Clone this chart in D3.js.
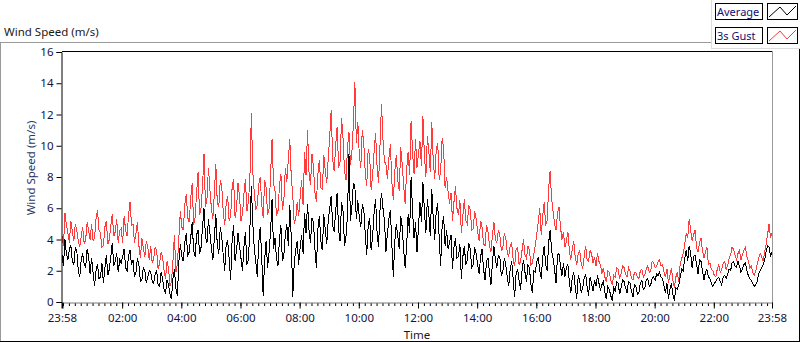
<!DOCTYPE html>
<html>
<head>
<meta charset="utf-8">
<script src="https://cdn.jsdelivr.net/npm/d3@7"></script>
<style>
  html, body { margin: 0; padding: 0; background: #fff; }
  svg { display: block; font-family: "Noto Sans", "Open Sans", sans-serif; }
</style>
</head>
<body>
<svg id="chart" width="800" height="342"></svg>
<script>
// samples every 3 minutes, 23:58 -> 23:58 next day
const sampleMinutes = 3;

const gustSpeed = [
  4.2,3.6, 5.7,4.9, 4.4,3.8, 5.2,4.5, 3.9,5.0, 4.6,3.9, 3.5,4.2, 4.8,3.7, 4.0,5.1, 4.6,4.0,
  5.0,3.9, 4.1,5.3, 5.9,4.6, 4.4,3.5, 3.6,4.8, 5.2,3.7, 4.0,4.9, 5.6,4.2, 4.5,5.3, 3.8,4.6,
  4.7,3.8, 5.5,4.6, 4.2,5.6, 6.4,4.9, 5.0,3.8, 4.4,5.1, 3.6,2.8, 4.1,3.4, 2.9,3.9, 3.5,2.7,
  3.6,2.5, 2.8,3.5, 3.3,2.1, 2.5,3.2, 2.9,2.0, 1.5,2.6, 2.2,1.0, 1.3,2.6, 4.3,1.9, 2.4,4.1,
  5.8,4.8, 4.6,6.2, 6.9,5.4, 5.1,6.6, 7.6,4.9, 5.4,7.0, 8.3,5.6, 6.0,7.4, 9.5,6.1, 6.6,8.6,
  7.2,6.0, 5.3,7.0, 8.8,6.3, 6.1,7.8, 7.4,5.8, 4.9,6.3, 6.8,5.2, 5.5,7.3, 7.9,5.4, 6.0,7.6,
  6.8,5.2, 5.6,6.9, 7.9,5.8, 6.4,7.8, 12.1,8.3, 7.0,5.9, 6.2,7.5, 8.0,6.3, 5.4,7.8, 7.3,5.6,
  6.0,8.1, 10.4,7.6, 7.1,5.5, 5.8,7.4, 8.2,5.9, 6.5,8.6, 7.7,9.1, 10.4,8.0, 6.9,5.0, 5.3,6.4,
  5.5,6.7, 7.8,6.2, 9.6,8.1, 11.0,8.3, 7.5,9.5, 8.6,7.0, 6.4,8.2, 9.1,7.3, 7.2,9.4, 8.4,7.6,
  9.2,10.6, 12.3,9.1, 8.4,10.0, 11.2,8.6, 9.0,11.8, 10.5,8.4, 7.8,9.9, 10.9,8.8, 9.6,11.4, 14.1,10.2,
  11.5,9.4, 8.6,11.0, 10.2,8.3, 7.4,9.8, 9.3,7.2, 8.1,9.6, 10.8,8.7, 7.6,10.1, 12.7,10.4, 9.0,8.8,
  7.9,9.2, 10.1,7.7, 6.5,8.4, 9.4,7.8, 7.1,9.9, 8.8,7.4, 6.3,8.5, 9.6,8.1, 11.6,9.6, 8.2,10.4,
  8.6,9.5, 10.3,8.7, 11.9,9.4, 8.0,10.6, 9.6,8.3, 11.5,9.0, 7.9,9.7, 10.2,7.8, 8.4,10.5, 9.8,7.3,
  8.0,7.1, 6.3,7.0, 5.2,6.4, 7.4,6.0, 5.6,6.5, 4.4,5.5, 6.6,5.2, 5.0,6.2, 5.9,4.6, 4.7,5.8,
  5.3,4.5, 3.9,5.2, 4.8,3.7, 3.6,4.9, 4.5,3.6, 3.2,4.3, 5.1,4.0, 3.8,4.6, 4.3,3.3, 3.4,4.4,
  4.1,3.2, 2.9,3.6, 3.8,2.7, 2.3,3.4, 3.5,2.4, 2.6,3.3, 4.0,3.0, 2.8,3.6, 3.3,2.4, 2.5,3.1,
  3.6,4.4, 5.1,6.0, 4.3,5.5, 6.4,4.9, 5.2,7.3, 8.4,6.6, 5.8,5.0, 4.6,5.7, 6.1,4.8, 4.0,4.5,
  3.5,3.9, 4.5,3.3, 2.7,3.4, 3.9,2.8, 2.4,3.1, 3.3,2.5, 2.1,2.9, 3.6,2.7, 2.6,3.3, 3.1,2.5,
  2.9,2.3, 3.1,2.6, 2.4,1.8, 2.2,1.6, 1.3,2.0, 1.9,1.4, 1.1,1.7, 1.6,2.2, 2.1,1.5, 1.8,2.3,
  2.2,1.8, 1.6,2.2, 2.0,1.5, 1.4,1.9, 1.9,1.6, 1.5,2.0, 2.1,1.6, 1.7,2.1, 2.3,1.9, 2.0,2.6,
  2.5,2.2, 2.3,2.6, 2.7,2.3, 2.4,1.9, 1.6,2.1, 1.2,1.7, 2.2,1.4, 0.9,1.6, 1.9,1.3, 2.5,2.8,
  3.1,3.7, 4.4,4.1, 5.3,4.6, 3.9,4.3, 4.6,3.5, 3.2,3.8, 4.1,3.3, 2.8,3.2, 3.5,2.4, 2.5,2.1,
  2.0,1.7, 1.6,2.1, 2.4,1.9, 2.1,2.5, 2.6,2.1, 2.3,2.8, 3.0,3.5, 3.4,3.0, 2.7,3.1, 3.3,2.7,
  3.0,3.3, 3.5,2.9, 2.6,2.2, 2.3,1.9, 1.7,2.0, 2.4,2.8, 3.1,2.9, 2.6,3.2, 3.7,4.3, 5.0,4.1, 4.4
];

const avgSpeed = [
  3.0,2.3, 4.0,3.1, 2.7,3.4, 3.6,2.6, 2.4,3.5, 3.3,2.0, 1.6,2.7, 3.1,2.4, 2.2,3.4, 2.9,1.8,
  2.8,1.9, 1.0,2.0, 2.4,1.5, 1.6,2.5, 1.2,2.2, 3.0,1.7, 2.1,2.9, 3.8,2.3, 2.6,3.1, 1.9,2.7,
  2.5,2.9, 3.4,2.2, 2.0,3.0, 3.3,2.4, 2.7,1.6, 1.9,2.8, 2.4,1.3, 1.4,2.2, 2.0,1.2, 1.6,2.0,
  1.9,1.3, 1.2,1.8, 2.0,1.1, 1.0,1.9, 1.5,0.8, 0.6,1.4, 1.1,0.5, 0.2,1.5, 2.1,0.9, 0.4,2.6,
  3.7,2.9, 2.6,3.8, 4.4,3.0, 3.2,4.1, 5.1,3.3, 2.9,4.3, 4.6,3.1, 3.5,4.8, 6.0,4.2, 3.8,5.3,
  4.4,3.5, 2.7,4.1, 5.6,3.6, 3.1,4.8, 4.2,3.0, 2.0,3.7, 3.9,2.8, 1.4,3.9, 4.9,2.6, 3.3,4.4,
  3.6,2.8, 2.0,3.5, 4.5,2.4, 2.7,4.6, 7.4,5.0, 3.4,2.6, 1.6,3.8, 4.8,2.9, 0.4,2.7, 3.9,2.2,
  3.2,4.5, 6.6,3.4, 4.1,2.8, 2.3,4.0, 4.9,2.6, 3.0,4.3, 5.0,3.6, 6.2,4.1, 0.3,2.5, 3.3,3.9,
  2.4,3.5, 4.3,3.1, 5.7,4.4, 6.3,4.6, 3.8,5.4, 5.1,3.4, 2.2,4.7, 5.5,3.9, 3.3,5.6, 4.6,3.7,
  5.2,6.0, 6.8,4.9, 4.5,5.8, 7.0,4.6, 3.9,6.4, 5.8,3.6, 4.2,5.5, 9.5,5.2, 6.1,7.6, 7.4,5.3,
  6.5,5.4, 4.8,6.2, 6.0,4.4, 3.0,4.9, 5.4,3.3, 4.2,5.7, 6.6,4.5, 3.5,5.9, 7.0,6.0, 5.2,3.2,
  4.4,5.3, 5.9,3.7, 1.6,3.9, 5.0,4.2, 3.4,5.5, 4.8,3.3, 2.2,3.6, 5.6,4.4, 8.0,5.8, 4.1,5.1,
  3.2,4.8, 6.4,5.1, 7.7,5.9, 4.4,6.6, 5.6,4.2, 7.2,5.3, 4.0,5.8, 6.3,4.1, 2.3,4.9, 5.5,3.6,
  4.6,3.4, 3.8,4.3, 2.1,3.5, 4.1,2.8, 2.9,3.7, 1.5,2.9, 3.6,2.4, 2.7,3.8, 3.4,2.2, 2.4,3.5,
  3.1,2.4, 1.8,2.9, 3.4,2.1, 1.4,2.6, 2.8,1.9, 1.1,2.5, 3.6,2.7, 2.2,3.0, 2.9,1.7, 1.9,2.8,
  2.4,1.6, 1.0,2.1, 2.6,1.5, 0.3,1.8, 2.1,1.4, 0.8,2.0, 2.7,1.9, 1.3,2.4, 2.2,1.1, 0.6,2.0,
  1.9,2.6, 2.9,2.0, 1.5,2.9, 3.6,2.4, 2.0,3.8, 4.6,3.3, 2.8,2.1, 1.2,3.0, 3.1,2.3, 1.7,2.5,
  1.6,2.2, 2.4,1.3, 0.6,1.6, 1.9,0.9, 0.2,1.7, 1.4,0.6, 0.9,1.5, 1.8,1.0, 0.4,1.6, 1.2,0.7,
  1.4,1.0, 1.7,1.2, 0.8,1.1, 1.3,0.6, 0.2,1.0, 0.8,0.4, 0.1,0.9, 0.7,1.3, 1.2,0.5, 0.9,1.4,
  1.3,0.9, 0.6,1.3, 1.2,0.7, 0.3,1.1, 1.0,0.5, 0.6,1.2, 1.4,0.8, 0.9,1.4, 1.5,1.0, 1.1,1.5,
  1.6,1.4, 1.8,1.7, 1.9,1.6, 1.5,1.0, 0.6,1.2, 0.2,0.8, 1.2,0.5, 0.1,0.9, 0.8,1.1, 1.6,2.1,
  2.0,2.8, 3.3,2.6, 3.6,3.1, 2.2,2.9, 3.0,2.4, 1.8,2.7, 2.6,2.0, 1.4,1.9, 2.1,1.6, 1.5,1.2,
  1.0,1.2, 1.3,1.5, 1.6,1.3, 1.1,1.6, 1.7,1.5, 1.8,2.1, 2.0,2.5, 2.6,2.3, 2.2,2.6, 2.3,1.9,
  2.1,2.4, 2.5,2.0, 1.7,1.5, 1.4,1.2, 1.0,1.1, 1.3,1.8, 2.0,2.2, 2.4,2.7, 3.2,3.6, 3.5,2.9, 3.2
];

const xTickLabels = ["23:58", "02:00", "04:00", "06:00", "08:00", "10:00", "12:00",
                     "14:00", "16:00", "18:00", "20:00", "22:00", "23:58"];
const yTickValues = [0, 2, 4, 6, 8, 10, 12, 14, 16];
const seriesNames = ["Average", "3s Gust"];
const seriesColors = ["#000000", "#ff3b3b"];

const svg = d3.select("#chart");
const textColor = "#14143c";
const fontSize = 11.5;

// plot area
const plot = { left: 62, right: 772, top: 52, bottom: 302 };

const startTime = new Date(2020, 0, 1, 23, 58);
const endTime = new Date(2020, 0, 2, 23, 58);
const times = avgSpeed.map((d, i) => new Date(startTime.getTime() + i * sampleMinutes * 60000));

const x = d3.scaleTime().domain([startTime, endTime]).range([plot.left, plot.right]);
const y = d3.scaleLinear().domain([0, 16]).range([plot.bottom, plot.top]);

// outer frame
svg.append("rect").attr("width", 800).attr("height", 342).attr("fill", "#fff");
svg.append("line").attr("x1", 0).attr("x2", 712).attr("y1", 42.5).attr("y2", 42.5).attr("stroke", "#9a9a9a");
svg.append("line").attr("x1", 0.5).attr("x2", 0.5).attr("y1", 42).attr("y2", 342).attr("stroke", "#9a9a9a");
svg.append("line").attr("x1", 0).attr("x2", 800).attr("y1", 341.5).attr("y2", 341.5).attr("stroke", "#000");
svg.append("line").attr("x1", 799.5).attr("x2", 799.5).attr("y1", 48).attr("y2", 342).attr("stroke", "#000");
// legend panel edge
svg.append("line").attr("x1", 711.5).attr("x2", 711.5).attr("y1", 0).attr("y2", 48).attr("stroke", "#dcdcdc");
svg.append("line").attr("x1", 711).attr("x2", 800).attr("y1", 48.5).attr("y2", 48.5).attr("stroke", "#dcdcdc");

svg.append("text")
  .attr("x", 4).attr("y", 36)
  .attr("font-size", fontSize).attr("fill", "#1a1a1a")
  .text("Wind Speed (m/s)");

// series lines (gust below, average on top), aliased like the original
const line = vals => d3.line()
  .x((d, i) => x(times[i]))
  .y(d => y(d))(vals);

const lines = svg.append("g").attr("shape-rendering", "crispEdges");
lines.append("path")
  .attr("d", line(gustSpeed))
  .attr("fill", "none").attr("stroke", seriesColors[1]).attr("stroke-width", 1);
lines.append("path")
  .attr("d", line(avgSpeed))
  .attr("fill", "none").attr("stroke", seriesColors[0]).attr("stroke-width", 1);

// plot frame
svg.append("line").attr("x1", plot.left).attr("x2", plot.right).attr("y1", plot.top - 0.5).attr("y2", plot.top - 0.5).attr("stroke", "#000");
svg.append("line").attr("x1", plot.right + 0.5).attr("x2", plot.right + 0.5).attr("y1", plot.top - 1).attr("y2", plot.bottom + 1).attr("stroke", "#9a9a9a");

// y axis
const yAxis = svg.append("g")
  .attr("transform", `translate(${plot.left - 0.5},0)`)
  .call(d3.axisLeft(y).tickValues(yTickValues).tickSize(5).tickPadding(3));
yAxis.select(".domain").attr("stroke", "#000");
yAxis.selectAll("text").attr("font-size", fontSize).attr("fill", textColor).attr("font-family", "Noto Sans, sans-serif");

// x axis
const xTickTimes = xTickLabels.map((s, i) => {
  if (i === 0) return startTime;
  if (i === xTickLabels.length - 1) return endTime;
  const [h, m] = s.split(":").map(Number);
  return new Date(2020, 0, 2, h, m);
});
const minorTimes = d3.timeMinute.every(12).range(startTime, endTime);

const xMinor = svg.append("g")
  .attr("transform", `translate(0,${plot.bottom + 1})`)
  .call(d3.axisBottom(x).tickValues(minorTimes).tickSize(3).tickFormat(""));
xMinor.select(".domain").remove();

const xAxis = svg.append("g")
  .attr("transform", `translate(0,${plot.bottom + 0.5})`)
  .call(d3.axisBottom(x).tickValues(xTickTimes).tickSize(6).tickPadding(5)
    .tickFormat((d, i) => xTickLabels[i]));
xAxis.select(".domain").attr("stroke", "#7a7a7a").attr("d", `M${plot.left},0.5H${plot.right + 1}`);
xAxis.selectAll("text").attr("font-size", fontSize).attr("fill", textColor).attr("font-family", "Noto Sans, sans-serif");
xAxis.select(".tick line").attr("stroke-width", 2);

svg.append("text")
  .attr("x", (plot.left + plot.right) / 2).attr("y", 339)
  .attr("text-anchor", "middle").attr("font-size", fontSize).attr("fill", "#1a1a1a")
  .text("Time");

svg.append("text")
  .attr("transform", "translate(35,168) rotate(-90)")
  .attr("text-anchor", "middle").attr("font-size", fontSize).attr("fill", "#2a3766")
  .text("Wind Speed (m/s)");

// legend
const legend = svg.append("g");
seriesNames.forEach((name, i) => {
  const g = legend.append("g").attr("transform", `translate(0,${i * 24})`);
  g.append("rect").attr("x", 715.5).attr("y", 3.5).attr("width", 47).attr("height", 16)
    .attr("fill", "#fff").attr("stroke", "#000");
  g.append("text").attr("x", 717).attr("y", 16).attr("font-size", 11).attr("fill", "#101070").text(name);
  g.append("rect").attr("x", 767.5).attr("y", 3.5).attr("width", 30).attr("height", 16)
    .attr("fill", "#fff").attr("stroke", "#000");
  g.append("polyline")
    .attr("points", "769,17 780,7 787,15 796,6")
    .attr("fill", "none").attr("stroke", seriesColors[i]);
});
</script>
</body>
</html>
